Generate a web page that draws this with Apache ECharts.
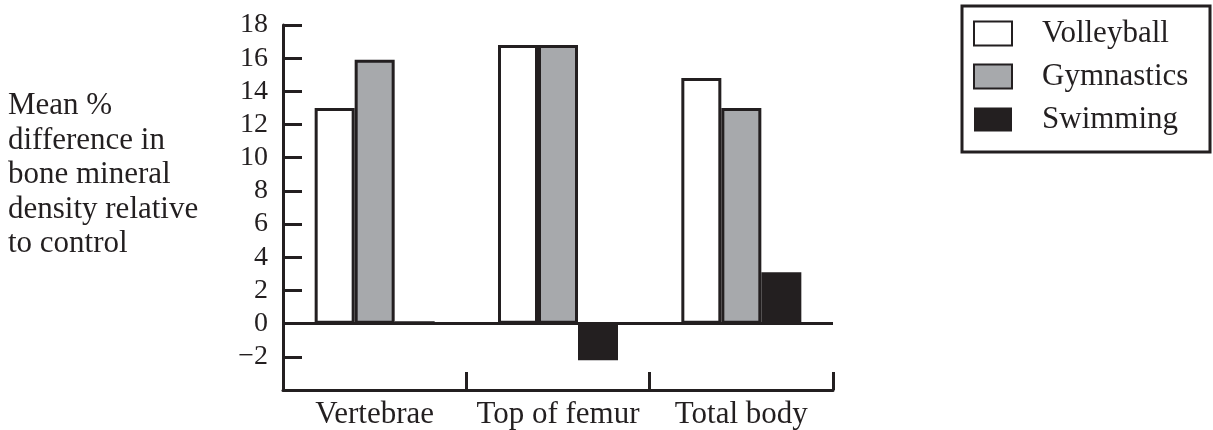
<!DOCTYPE html>
<html>
<head>
<meta charset="utf-8">
<script src="https://cdn.jsdelivr.net/npm/echarts@6/dist/echarts.min.js"></script>
<style>
html,body{margin:0;padding:0;background:#fff;}
#chart{width:1213px;height:430px;}
</style>
</head>
<body>
<div id="chart"></div>
<script>
const categories = ['Vertebrae', 'Top of femur', 'Total body'];
const volleyball = [13.0, 16.8, 14.8];
const gymnastics = [15.9, 16.8, 13.0];
const swimming = [0.15, -2.2, 3.1];
const yTickValues = [-2, 0, 2, 4, 6, 8, 10, 12, 14, 16, 18];
const yAxisTitle = ['Mean %', 'difference in', 'bone mineral', 'density relative', 'to control'];

const INK = '#231f20';
const GREY = '#a7a9ac';
const FONT = "'Liberation Serif', 'Times New Roman', serif";
const FS_WORD = 31;
const FS_NUM = 28;

const chart = echarts.init(document.getElementById('chart'), null, {renderer: 'canvas'});
chart.setOption({
  animation: false,
  backgroundColor: '#fff',
  textStyle: {fontFamily: FONT},
  grid: {left: 283, right: 380, top: 25, bottom: 38, containLabel: false},
  legend: {
    orient: 'vertical',
    left: 973, top: 18,
    padding: 0,
    icon: 'rect',
    itemWidth: 38, itemHeight: 24, itemGap: 12,
    textStyle: {fontFamily: FONT, fontSize: FS_WORD, color: INK, padding: [0, 0, 0, 25]},
    data: ['Volleyball', 'Gymnastics', 'Swimming']
  },
  graphic: [
    {type: 'rect', shape: {x: 962, y: 6, width: 248, height: 146},
     style: {fill: 'none', stroke: INK, lineWidth: 3}},
    {type: 'text', left: 8, top: 89,
     style: {text: yAxisTitle.join('\n'), fontFamily: FONT, fontSize: FS_WORD, fill: INK, lineHeight: 34.5}}
  ],
  xAxis: {
    type: 'category',
    data: categories,
    axisLine: {show: true, lineStyle: {color: INK, width: 3}, onZero: false},
    axisTick: {show: true, inside: true, length: 18, interval: 0, lineStyle: {color: INK, width: 3}, alignWithLabel: false},
    axisLabel: {fontFamily: FONT, fontSize: FS_WORD, color: INK, margin: 9, interval: 0},
    splitLine: {show: false}
  },
  yAxis: {
    type: 'value',
    min: -4, max: 18, interval: 2,
    axisLine: {show: true, lineStyle: {color: INK, width: 3}},
    axisTick: {show: true, inside: true, length: 19, lineStyle: {color: INK, width: 3}},
    axisLabel: {
      fontFamily: FONT, fontSize: FS_NUM, color: INK, margin: 15,
      formatter: v => yTickValues.indexOf(v) >= 0 ? (v < 0 ? '\u2212' + Math.abs(v) : String(v)) : ''
    },
    splitLine: {show: false}
  },
  series: [
    {name: 'Volleyball', type: 'bar', data: volleyball, barWidth: 40, barGap: '0%',
     itemStyle: {color: '#ffffff', borderColor: INK, borderWidth: 3},
     markLine: {silent: true, symbol: 'none', label: {show: false},
       lineStyle: {color: INK, width: 3, type: 'solid'}, data: [{yAxis: 0}]}},
    {name: 'Gymnastics', type: 'bar', data: gymnastics, barWidth: 40, barGap: '0%',
     itemStyle: {color: GREY, borderColor: INK, borderWidth: 3}},
    {name: 'Swimming', type: 'bar', data: swimming, barWidth: 40, barGap: '0%',
     itemStyle: {color: INK, borderColor: INK, borderWidth: 0}}
  ]
});
</script>
</body>
</html>
